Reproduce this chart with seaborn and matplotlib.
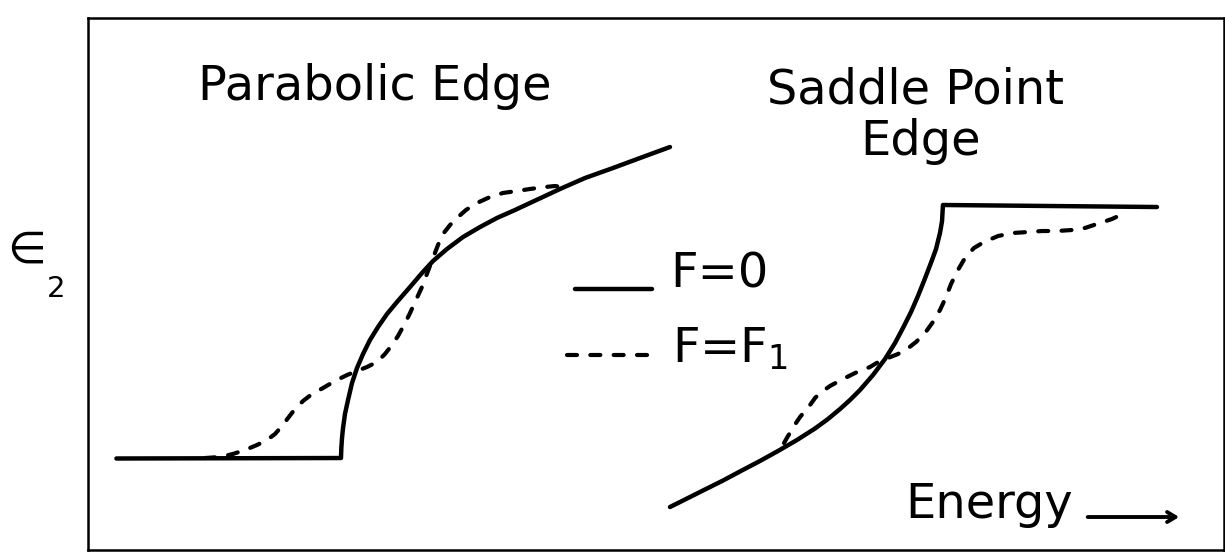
import numpy as np
import pandas as pd
import matplotlib
matplotlib.use("Agg")
import matplotlib.pyplot as plt
import seaborn as sns

# Photon energy (arbitrary units) and epsilon_2 (arbitrary units)
parabolic_E_f0 = [0.25, 2.227, 2.230, 2.236, 2.245, 2.262, 2.289, 2.324, 2.368,
                  2.421, 2.482, 2.553, 2.632, 2.720, 2.835, 2.940, 3.037, 3.160,
                  3.301, 3.451, 3.600, 3.759, 3.891, 4.023, 4.155, 4.375, 4.621,
                  4.859, 5.123]
parabolic_eps_f0 = [1.72, 1.729, 1.917, 2.105, 2.293, 2.556, 2.820, 3.139, 3.421,
                    3.684, 3.947, 4.192, 4.436, 4.662, 4.944, 5.207, 5.432, 5.658,
                    5.883, 6.071, 6.241, 6.391, 6.523, 6.654, 6.786, 6.992, 7.180,
                    7.368, 7.575]

parabolic_E_f1 = [1.030, 1.162, 1.276, 1.382, 1.488, 1.576, 1.646, 1.708, 1.761,
                  1.822, 1.893, 1.972, 2.069, 2.174, 2.280, 2.368, 2.456, 2.544,
                  2.614, 2.676, 2.729, 2.782, 2.835, 2.887, 2.940, 2.993, 3.037,
                  3.081, 3.125, 3.187, 3.248, 3.327, 3.424, 3.539, 3.653, 3.776,
                  3.891, 4.023, 4.111, 4.173]
parabolic_eps_f1 = [1.729, 1.748, 1.805, 1.880, 1.974, 2.068, 2.180, 2.331, 2.481,
                    2.650, 2.801, 2.932, 3.045, 3.177, 3.289, 3.365, 3.440, 3.534,
                    3.684, 3.853, 4.023, 4.229, 4.455, 4.699, 4.944, 5.244, 5.489,
                    5.733, 5.940, 6.109, 6.241, 6.391, 6.523, 6.635, 6.711, 6.748,
                    6.786, 6.823, 6.842, 6.823]

saddle_E_f0 = [5.123, 5.238, 5.387, 5.590, 5.739, 5.915, 6.074, 6.241, 6.400,
               6.514, 6.620, 6.708, 6.796, 6.910, 7.016, 7.104, 7.174, 7.245,
               7.306, 7.359, 7.403, 7.430, 7.465, 7.500, 7.518, 7.526, 9.410]
saddle_eps_f0 = [0.808, 0.930, 1.090, 1.306, 1.476, 1.673, 1.861, 2.068, 2.284,
                 2.462, 2.650, 2.820, 3.008, 3.289, 3.590, 3.891, 4.173, 4.474,
                 4.774, 5.056, 5.301, 5.451, 5.658, 5.959, 6.184, 6.485, 6.447]

saddle_E_f1 = [6.127, 6.162, 6.197, 6.232, 6.268, 6.312, 6.356, 6.400, 6.444,
               6.532, 6.629, 6.752, 6.884, 6.972, 7.042, 7.130, 7.210, 7.289,
               7.368, 7.438, 7.500, 7.553, 7.597, 7.658, 7.720, 7.799, 7.887,
               8.011, 8.143, 8.275, 8.398, 8.530, 8.662, 8.776, 8.882, 9.014,
               9.146]
saddle_eps_f1 = [2.011, 2.143, 2.256, 2.387, 2.500, 2.613, 2.726, 2.857, 2.951,
                 3.083, 3.195, 3.327, 3.440, 3.553, 3.609, 3.684, 3.778, 3.910,
                 4.079, 4.286, 4.511, 4.756, 5.000, 5.263, 5.489, 5.677, 5.789,
                 5.902, 5.959, 5.977, 5.996, 5.996, 6.015, 6.053, 6.128, 6.222,
                 6.353]

labels = ["F=0", "F=F$_1$"]
titles = ["Parabolic Edge", "Saddle Point", "Edge"]

sns.set_theme(style="white")
plt.rcParams["font.family"] = ["DejaVu Sans"]
plt.rcParams["mathtext.fontset"] = "dejavusans"
plt.rcParams["text.color"] = "black"
plt.rcParams["axes.labelcolor"] = "black"

fig = plt.figure(figsize=(12.25, 5.52), dpi=100)
ax = fig.add_axes([88 / 1225, 2 / 552, 1136 / 1225, 532 / 552])

solid_kw = dict(color="black", lw=3.2, solid_capstyle="round",
                solid_joinstyle="round")
dash_kw = dict(color="black", lw=3.0, linestyle=(0, (2.4, 3.2)),
               dash_capstyle="round")

curves = [
    (parabolic_E_f0, parabolic_eps_f0, solid_kw),
    (parabolic_E_f1, parabolic_eps_f1, dash_kw),
    (saddle_E_f0, saddle_eps_f0, solid_kw),
    (saddle_E_f1, saddle_eps_f1, dash_kw),
]
for E, eps, kw in curves:
    df = pd.DataFrame({"E": E, "eps": eps})
    sns.lineplot(data=df, x="E", y="eps", ax=ax, sort=False,
                 estimator=None, **kw)

ax.set_xlim(0, 10)
ax.set_ylim(0, 10)
ax.set_xticks([])
ax.set_yticks([])
ax.set_xlabel("")
for side, sp in ax.spines.items():
    sp.set_visible(True)
    sp.set_color("black")
    sp.set_linewidth(1.8)

fs = 34.5
ax.text(0.2526, 0.846, titles[0], transform=ax.transAxes, ha="center",
        va="baseline", fontsize=fs)
ax.text(0.728, 0.840, titles[1], transform=ax.transAxes, ha="center",
        va="baseline", fontsize=fs)
ax.text(0.733, 0.7425, titles[2], transform=ax.transAxes, ha="center",
        va="baseline", fontsize=fs)

# Key for the two field values
ax.plot([0.4287, 0.4965], [0.4906, 0.4906], transform=ax.transAxes, **solid_kw)
ax.text(0.5123, 0.4925, labels[0], transform=ax.transAxes, ha="left",
        va="baseline", fontsize=fs)
ax.plot([0.4217, 0.4991], [0.3665, 0.3665], transform=ax.transAxes, **dash_kw)
ax.text(0.5141, 0.3534, labels[1], transform=ax.transAxes, ha="left",
        va="baseline", fontsize=fs)

# Energy axis label with arrow
ax.text(0.7192, 0.0602, "Energy", transform=ax.transAxes, ha="left",
        va="baseline", fontsize=fs)
ax.annotate("", xy=(0.963, 0.062), xytext=(0.8776, 0.062),
            xycoords="axes fraction", textcoords="axes fraction",
            arrowprops=dict(arrowstyle="->,head_length=0.5,head_width=0.3",
                            color="black", lw=2.8))

# epsilon_2 axis label
ax.set_ylabel("\u2208", rotation=0, fontsize=32, ha="center", va="center")
ax.yaxis.set_label_coords(-0.0537, 0.564)
ax.text(-0.0361, 0.4756, "2", transform=ax.transAxes, ha="left",
        va="baseline", fontsize=21, clip_on=False)

fig.savefig("out.png", dpi=100, facecolor="white")
